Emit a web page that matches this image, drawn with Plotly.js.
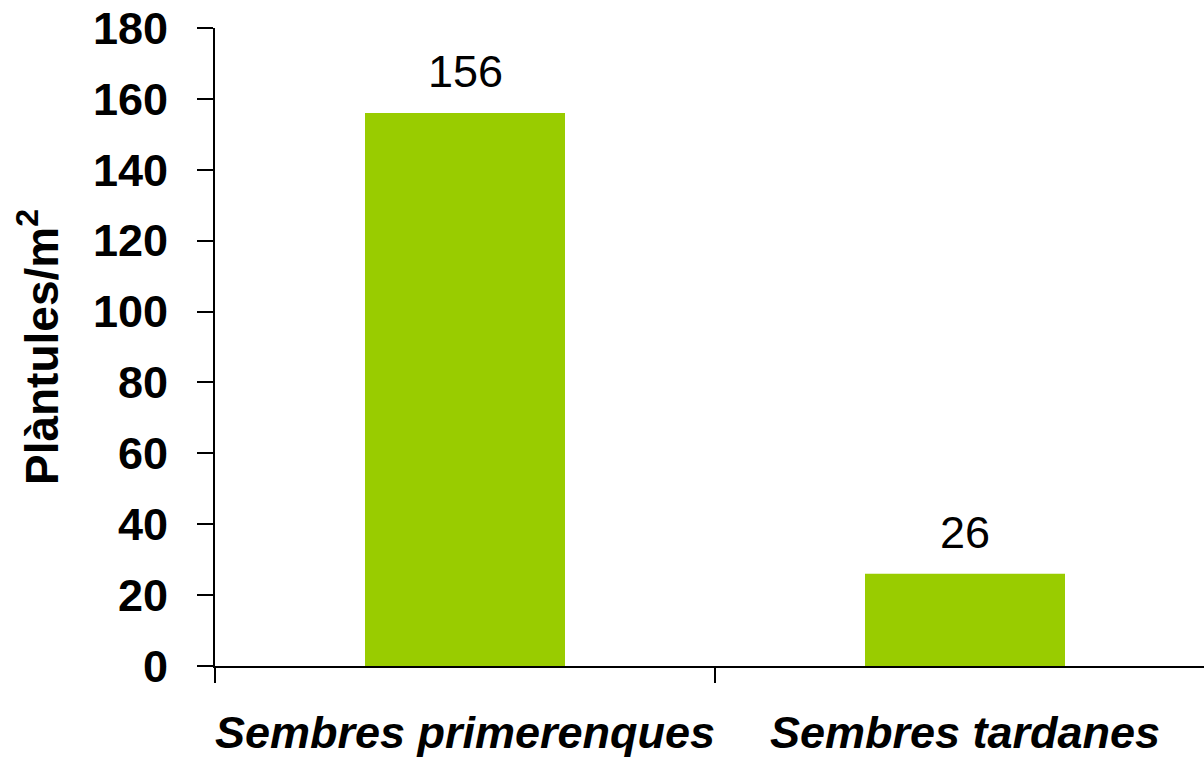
<!DOCTYPE html>
<html>
<head>
<meta charset="utf-8">
<script src="https://cdn.plot.ly/plotly-3.0.1.min.js"></script>
<style>
  html, body { margin: 0; padding: 0; background: #ffffff; }
  #chart { width: 1204px; height: 762px; }
</style>
</head>
<body>
<div id="chart"></div>
<script>
const categories = ["Sembres primerenques", "Sembres tardanes"];
const values = [156, 26];
const yTickValues = [0, 20, 40, 60, 80, 100, 120, 140, 160, 180];
const yTitle = "Plàntules/m<sup>2</sup>";

const FONT = "'Liberation Sans', Arial, Helvetica, sans-serif";

const trace = {
  type: "bar",
  x: categories,
  y: values,
  width: 0.4,
  marker: { color: "#99CC00", line: { width: 0 } },
  hoverinfo: "skip"
};

const annotations = categories.map((c, i) => ({
  x: c,
  y: values[i],
  xref: "x",
  yref: "y",
  text: String(values[i]),
  showarrow: false,
  yanchor: "bottom",
  yshift: 14,
  font: { family: FONT, size: 45, color: "#000000" }
}));

const layout = {
  width: 1204,
  height: 762,
  margin: { l: 215, r: 0, t: 28, b: 96 },
  paper_bgcolor: "#ffffff",
  plot_bgcolor: "#ffffff",
  showlegend: false,
  font: { family: FONT, color: "#000000" },
  xaxis: {
    type: "category",
    range: [-0.5, 1.478],
    showline: true,
    linecolor: "#000000",
    linewidth: 2,
    ticks: "outside",
    tickson: "boundaries",
    ticklen: 15,
    tickwidth: 2,
    tickcolor: "#000000",
    showgrid: false,
    zeroline: false,
    tickangle: 0,
    automargin: false,
    ticklabelstandoff: 26,
    tickfont: { family: FONT, size: 45, color: "#000000", weight: "bold", style: "italic" }
  },
  yaxis: {
    range: [0, 180],
    tickvals: yTickValues,
    ticktext: yTickValues.map(String),
    showline: true,
    linecolor: "#000000",
    linewidth: 2,
    ticks: "outside",
    ticklen: 16,
    tickwidth: 2,
    tickcolor: "#000000",
    showgrid: false,
    zeroline: false,
    automargin: false,
    ticklabelstandoff: 20,
    tickfont: { family: FONT, size: 45, color: "#000000", weight: "bold" },
    title: {
      text: yTitle,
      standoff: 20,
      font: { family: FONT, size: 46, color: "#000000", weight: "bold" }
    }
  },
  annotations: annotations
};

Plotly.newPlot("chart", [trace], layout, { staticPlot: true, displayModeBar: false });
</script>
</body>
</html>
